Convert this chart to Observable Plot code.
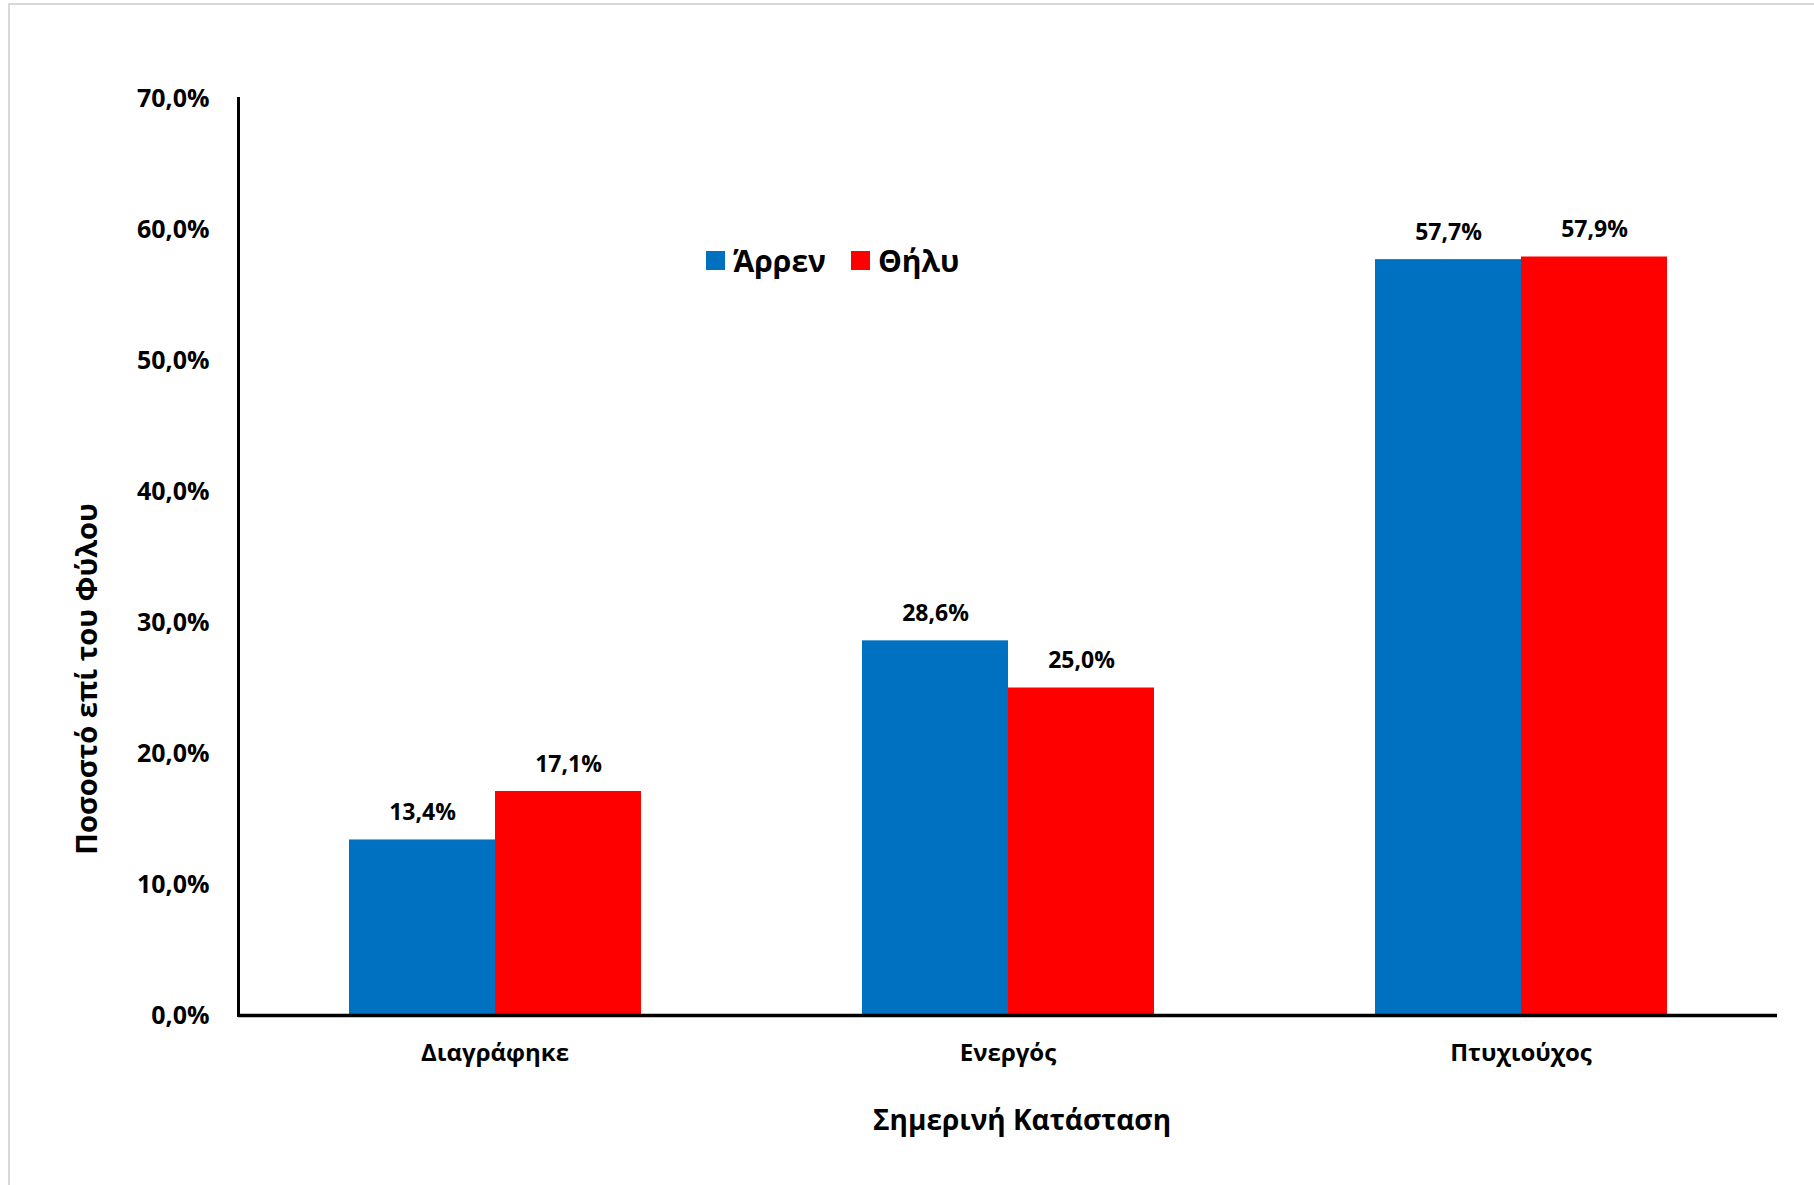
<!DOCTYPE html>
<html>
<head>
<meta charset="utf-8">
<script src="https://cdn.jsdelivr.net/npm/d3@7"></script>
<script src="https://cdn.jsdelivr.net/npm/@observablehq/plot@0.6"></script>
<style>
  html, body { margin: 0; padding: 0; background: #fff; }
  body { width: 1814px; height: 1185px; overflow: hidden; position: relative; font-family: "Open Sans", sans-serif; }
  #frame { position: absolute; left: 8px; top: 3px; width: 1820px; height: 1200px; border-top: 2px solid #d9d9d9; border-left: 2px solid #d9d9d9; box-sizing: border-box; }
  #chart { position: absolute; left: 0; top: 0; }
  .legend { position: absolute; left: 706px; top: 240px; display: flex; align-items: center; font-weight: 700; font-size: 30px; color: #000; }
  .legend .sw { width: 19px; height: 19px; display: inline-block; margin-right: 8px; }
  .legend .item { display: flex; align-items: center; margin-right: 25px; }
  .ytitle { position: absolute; left: 85px; top: 679px; transform: translate(-50%, -50%) rotate(-90deg); font-weight: 700; font-size: 29px; white-space: nowrap; color: #000; }
  .xtitle { position: absolute; left: 1022px; top: 1119px; transform: translate(-50%, -50%); font-weight: 700; font-size: 28px; white-space: nowrap; color: #000; }
</style>
</head>
<body>
<div id="frame"></div>
<div id="chart"></div>
<div class="legend" id="legend"></div>
<div class="ytitle" id="ytitle"></div>
<div class="xtitle" id="xtitle"></div>
<script>
const categories = ["Διαγράφηκε", "Ενεργός", "Πτυχιούχος"];
const sexes = ["Άρρεν", "Θήλυ"];
const maleValues = [0.134, 0.286, 0.577];
const femaleValues = [0.171, 0.250, 0.579];
const yTicks = [0, 0.1, 0.2, 0.3, 0.4, 0.5, 0.6, 0.7];
const colors = ["#0070C0", "#FF0000"];
const yTitle = "Ποσοστό επί του Φύλου";
const xTitle = "Σημερινή Κατάσταση";

const data = [];
categories.forEach((c, i) => {
  data.push({category: c, sex: sexes[0], value: maleValues[i]});
  data.push({category: c, sex: sexes[1], value: femaleValues[i]});
});

const pct = d => (d * 100).toFixed(1).replace(".", ",") + "%";
const font = "Open Sans, sans-serif";

const chart = Plot.plot({
  width: 1814,
  height: 1185,
  marginLeft: 237,
  marginRight: 37,
  marginTop: 98,
  marginBottom: 170,
  style: {fontFamily: font, background: "transparent", color: "#000"},
  fx: {domain: categories, padding: 0, label: null},
  x: {domain: sexes, paddingInner: 0, paddingOuter: 0.752, axis: null},
  y: {domain: [0, 0.7], label: null},
  color: {domain: sexes, range: colors},
  marks: [
    Plot.barY(data, {fx: "category", x: "sex", y: "value", fill: "sex", inset: 0}),
    Plot.text(data, {fx: "category", x: "sex", y: "value", text: d => pct(d.value), dy: -27, fontSize: 23, fontWeight: 700, fill: "#000"}),
    Plot.axisY({ticks: yTicks, tickFormat: pct, tickSize: 0, tickPadding: 29, fontSize: 25, fontWeight: 700, label: null}),
    Plot.axisFx({anchor: "bottom", tickSize: 0, tickPadding: 28, fontSize: 24, fontWeight: 700, label: null}),
    Plot.frame({anchor: "left", facetAnchor: "left", stroke: "#000", strokeWidth: 3, strokeOpacity: 1}),
    Plot.ruleY([0], {stroke: "#000", strokeWidth: 3.5})
  ]
});
document.getElementById("chart").appendChild(chart);

const legend = document.getElementById("legend");
sexes.forEach((s, i) => {
  const item = document.createElement("div");
  item.className = "item";
  const sw = document.createElement("span");
  sw.className = "sw";
  sw.style.background = colors[i];
  const t = document.createElement("span");
  t.textContent = s;
  item.appendChild(sw);
  item.appendChild(t);
  legend.appendChild(item);
});
document.getElementById("ytitle").textContent = yTitle;
document.getElementById("xtitle").textContent = xTitle;
</script>
</body>
</html>
